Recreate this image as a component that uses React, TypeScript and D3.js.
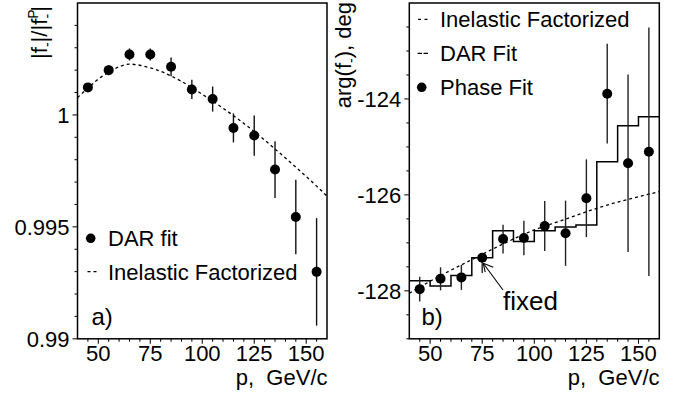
import React from 'react';
import * as d3 from 'd3';

// ---------- data ----------
const pBins = [45, 55, 65, 75, 85, 95, 105, 115, 125, 135, 145, 155];

// panel a) |f-|/|f-P|, DAR fit points
const darRatio = [1.00123, 1.002, 1.0027, 1.0027, 1.00215, 1.00114, 1.00071, 0.99942, 0.99908, 0.99756, 0.99544, 0.99299];
const darRatioErr = [0.0002, 0.00022, 0.00027, 0.00027, 0.00042, 0.00043, 0.00056, 0.00065, 0.0009, 0.00127, 0.00166, 0.0024];

// panel a) Inelastic Factorized curve
const inelRatioP = [40, 45, 50, 55, 60, 65, 70, 75, 80, 85, 90, 95, 100, 105, 110, 115, 120, 125, 130, 135, 140, 145, 150, 155, 160];
const inelRatio = [1.00077, 1.0012, 1.0016, 1.0019, 1.00215, 1.00227, 1.00222, 1.0021, 1.00195, 1.00174, 1.0015, 1.00122, 1.00092, 1.00062, 1.0003, 0.99997, 0.99962, 0.99926, 0.99888, 0.99848, 0.99808, 0.99767, 0.99725, 0.99682, 0.99637];

// panel b) arg(f-), Phase Fit points
const phaseDeg = [-127.965, -127.75, -127.72, -127.31, -126.92, -126.9, -126.65, -126.8, -126.07, -123.89, -125.34, -125.1];
const phaseErrLow = [0.26, 0.24, 0.26, 0.32, 0.3, 0.36, 0.52, 0.68, 0.81, 1.04, 1.85, 2.59];
const phaseErrHigh = [0.26, 0.24, 0.26, 0.0, 0.3, 0.36, 0.52, 0.68, 0.81, 1.04, 1.85, 2.59];

// panel b) DAR Fit histogram
const darStepEdges = [40, 50, 60, 70, 80, 90, 100, 110, 120, 130, 140, 150, 160];
const darStepDeg = [-127.79, -127.9, -127.68, -127.31, -126.75, -126.97, -126.75, -126.67, -126.63, -125.31, -124.56, -124.37];

// panel b) Inelastic Factorized curve
const inelDegP = [40, 50, 60, 70, 80, 90, 100, 110, 120, 130, 140, 150, 160];
const inelDeg = [-128.05, -127.8, -127.57, -127.35, -127.13, -126.92, -126.73, -126.58, -126.43, -126.28, -126.15, -126.04, -125.93];

const xTicks = [50, 75, 100, 125, 150];
const ratioTicks = [0.99, 0.995, 1];
const degTicks = [-128, -126, -124];

// ---------- layout ----------
const W = 688, H = 397;
const FONT = 'Liberation Sans, Arial, Helvetica, sans-serif';
const TOP = 3, BOTTOM = 338.8;

const xA = d3.scaleLinear().domain([40, 160]).range([77.5, 327]);
const yA = d3.scaleLinear().domain([0.99, 1.005]).range([BOTTOM, TOP]);
const xB = d3.scaleLinear().domain([40, 160]).range([409.3, 659.3]);
const yB = d3.scaleLinear().domain([-129, -122]).range([BOTTOM, TOP]);

const xMinor = d3.range(45, 160, 5);
const ratioMinor = d3.range(0, 15).map((i) => 0.99 + i * 0.001);
const degMinor = d3.range(0, 14).map((i) => -129 + i * 0.5);

function XAxis({ x, labelRight }: { x: d3.ScaleLinear<number, number>; labelRight: number }) {
  return (
    <g>
      {xMinor.map((t) => (
        <line key={'m' + t} x1={x(t)} x2={x(t)} y1={BOTTOM} y2={BOTTOM + (xTicks.includes(t) ? 5 : 3)} stroke="#000" strokeWidth={1} />
      ))}
      {xTicks.map((t) => (
        <text key={t} x={x(t)} y={361} textAnchor="middle" fontSize={22} fontFamily={FONT}>{t}</text>
      ))}
      <text x={labelRight} y={385} textAnchor="end" fontSize={22} fontFamily={FONT} style={{ whiteSpace: 'pre' }}>{'p,  GeV/c'}</text>
    </g>
  );
}

function YAxis({ y, x0, minor, major, fmt }: { y: d3.ScaleLinear<number, number>; x0: number; minor: number[]; major: number[]; fmt: (v: number) => string }) {
  const isMajor = (v: number) => major.some((m) => Math.abs(m - v) < 1e-7);
  return (
    <g>
      {minor.map((t, i) => (
        <line key={'m' + i} x1={x0} x2={x0 - (isMajor(t) ? 5 : 3)} y1={y(t)} y2={y(t)} stroke="#000" strokeWidth={1} />
      ))}
      {major.map((t) => (
        <text key={t} x={x0 - 8} y={y(t)} dy="0.36em" textAnchor="end" fontSize={22} fontFamily={FONT}>{fmt(t)}</text>
      ))}
    </g>
  );
}

export default function App() {
  const lineA = d3.line<number>().x((_, i) => xA(inelRatioP[i])).y((d) => yA(d)).curve(d3.curveMonotoneX);
  const lineBInel = d3.line<number>().x((_, i) => xB(inelDegP[i])).y((d) => yB(d)).curve(d3.curveMonotoneX);
  const stepPts: [number, number][] = darStepDeg.map((v, i) => [darStepEdges[i], v] as [number, number]);
  stepPts.push([darStepEdges[darStepEdges.length - 1], darStepDeg[darStepDeg.length - 1]]);
  const lineStep = d3.line<[number, number]>().x((d) => xB(d[0])).y((d) => yB(d[1])).curve(d3.curveStepAfter);

  const arrowTip: [number, number] = [xB(75) + 1, yB(phaseDeg[3]) + 5.5];
  const arrowTail: [number, number] = [503, 290];

  return (
    <svg width={W} height={H} viewBox={`0 0 ${W} ${H}`} style={{ position: 'absolute', left: 0, top: 0, background: '#fff' }}>
      <rect x={0} y={0} width={W} height={H} fill="#fff" />

      {/* ---------- panel a ---------- */}
      <g>
        <path d={lineA(inelRatio) || ''} fill="none" stroke="#000" strokeWidth={1.3} strokeDasharray="3,3" />
        {pBins.map((p, i) => (
          <line key={'ea' + p} x1={xA(p)} x2={xA(p)} y1={yA(darRatio[i] - darRatioErr[i])} y2={yA(darRatio[i] + darRatioErr[i])} stroke="#111" strokeWidth={1.4} />
        ))}
        {pBins.map((p, i) => (
          <circle key={'ca' + p} cx={xA(p)} cy={yA(darRatio[i])} r={5} fill="#000" />
        ))}
        <rect x={77.5} y={TOP} width={327 - 77.5} height={BOTTOM - TOP} fill="none" stroke="#000" strokeWidth={1.5} />
        <YAxis y={yA} x0={77.5} minor={ratioMinor} major={ratioTicks} fmt={(v) => (v === 1 ? '1' : String(v))} />
        <XAxis x={xA} labelRight={327.5} />

        {/* legend */}
        <circle cx={90.7} cy={238.3} r={4.8} fill="#000" />
        <text x={108} y={245.7} fontSize={22} fontFamily={FONT}>DAR fit</text>
        <line x1={87.5} x2={97} y1={271.7} y2={271.7} stroke="#000" strokeWidth={1.2} strokeDasharray="3,3" />
        <text x={108} y={280} fontSize={22} fontFamily={FONT}>Inelastic Factorized</text>
        <text x={91.5} y={325} fontSize={24} fontFamily={FONT}>a)</text>

        {/* y label */}
        <text transform="translate(47,6) rotate(-90)" textAnchor="end" fontSize={22} fontFamily={FONT}>
          |f<tspan fontSize={14} dy={5}>-</tspan><tspan dy={-5}>|/|f</tspan><tspan fontSize={14} dy={-9}>P</tspan><tspan fontSize={14} dx={-9} dy={14}>-</tspan><tspan dy={-5} dx={2}>|</tspan>
        </text>
      </g>

      {/* ---------- panel b ---------- */}
      <g>
        <path d={lineBInel(inelDeg) || ''} fill="none" stroke="#000" strokeWidth={1.3} strokeDasharray="3,3" />
        <path d={lineStep(stepPts) || ''} fill="none" stroke="#000" strokeWidth={1.5} />
        {pBins.map((p, i) => (
          <line key={'eb' + p} x1={xB(p)} x2={xB(p)} y1={yB(phaseDeg[i] - phaseErrLow[i])} y2={yB(phaseDeg[i] + phaseErrHigh[i])} stroke="#222" strokeWidth={1.4} />
        ))}
        {pBins.map((p, i) => (
          <circle key={'cb' + p} cx={xB(p)} cy={yB(phaseDeg[i])} r={5} fill="#000" />
        ))}
        <rect x={409.3} y={TOP} width={659.3 - 409.3} height={BOTTOM - TOP} fill="none" stroke="#000" strokeWidth={1.5} />
        <YAxis y={yB} x0={409.3} minor={degMinor} major={degTicks} fmt={(v) => String(v)} />
        <XAxis x={xB} labelRight={659.5} />

        {/* legend */}
        <line x1={418} x2={428.5} y1={19.3} y2={19.3} stroke="#000" strokeWidth={1.2} strokeDasharray="3,3.5" />
        <text x={440} y={27} fontSize={22} fontFamily={FONT}>Inelastic Factorized</text>
        <line x1={417.5} x2={428} y1={53.3} y2={53.3} stroke="#000" strokeWidth={1.2} strokeDasharray="4.5,1.5" />
        <text x={440} y={61} fontSize={22} fontFamily={FONT}>DAR Fit</text>
        <circle cx={421.7} cy={87.3} r={4.8} fill="#000" />
        <text x={440} y={95} fontSize={22} fontFamily={FONT}>Phase Fit</text>
        <text x={421.5} y={325} fontSize={24} fontFamily={FONT}>b)</text>

        {/* fixed annotation */}
        <line x1={arrowTail[0]} y1={arrowTail[1]} x2={arrowTip[0]} y2={arrowTip[1]} stroke="#000" strokeWidth={1.1} />
        <line x1={arrowTip[0]} y1={arrowTip[1]} x2={arrowTip[0] + 10} y2={arrowTip[1] + 4} stroke="#000" strokeWidth={1.1} />
        <line x1={arrowTip[0]} y1={arrowTip[1]} x2={arrowTip[0] + 2} y2={arrowTip[1] + 9} stroke="#000" strokeWidth={1.1} />
        <text x={503} y={310} fontSize={26} fontFamily={FONT}>fixed</text>

        {/* y label */}
        <text transform="translate(351,2) rotate(-90)" textAnchor="end" fontSize={22} fontFamily={FONT}>
          arg(f<tspan fontSize={14} dy={5}>-</tspan><tspan dy={-5}>), deg</tspan>
        </text>
      </g>
    </svg>
  );
}
